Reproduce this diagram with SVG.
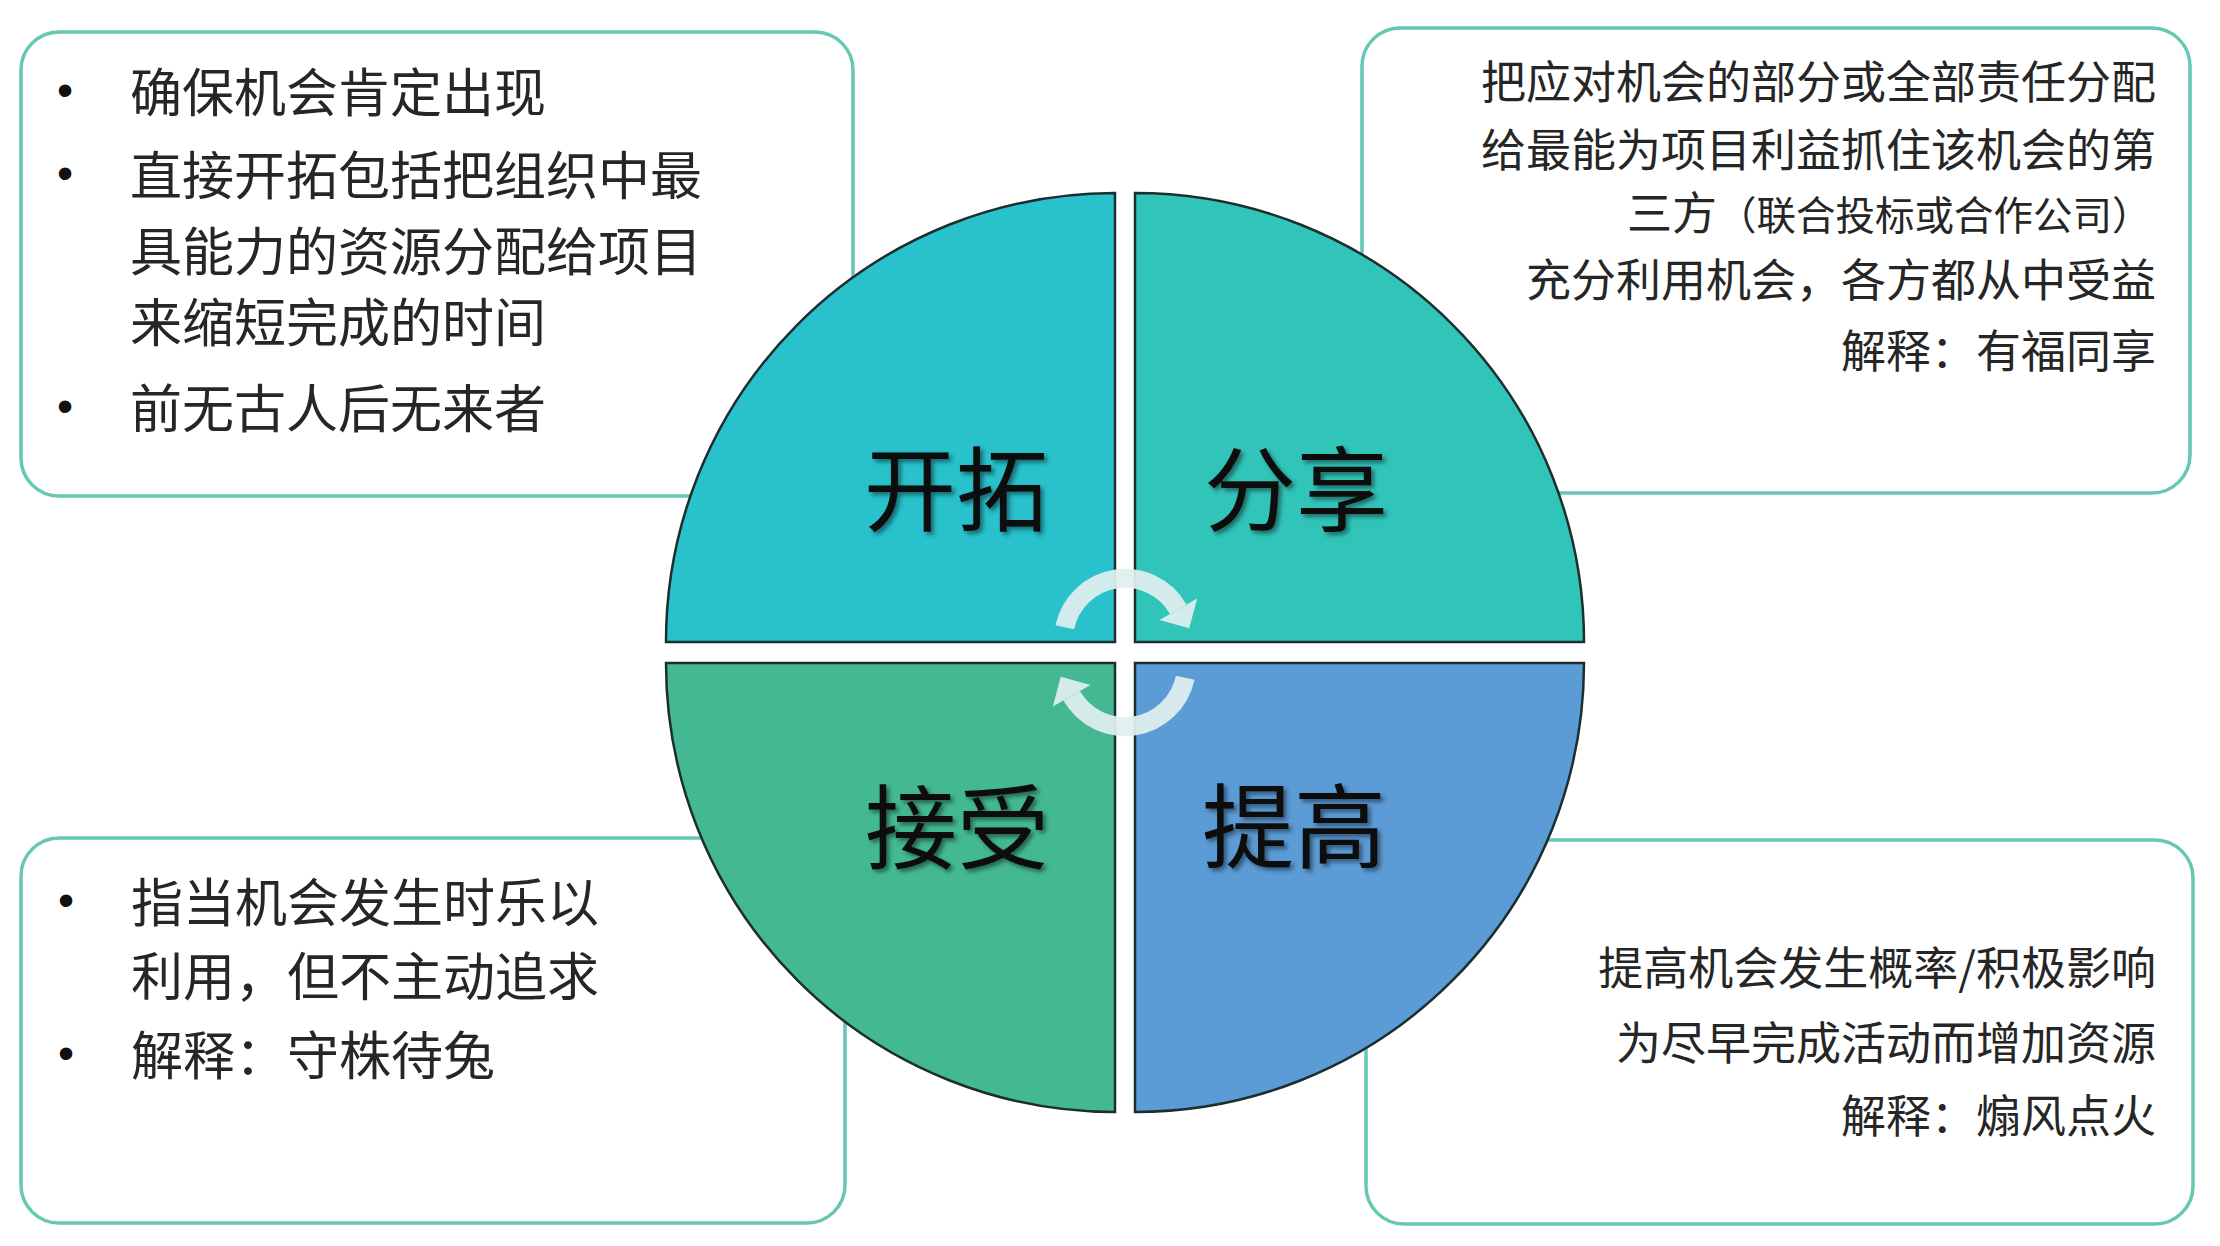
<svg xmlns="http://www.w3.org/2000/svg" width="2220" height="1246" viewBox="0 0 2220 1246">
  <defs>
    <style>
      .box { fill: #ffffff; stroke: #66c8b3; stroke-width: 3.5; }
      .quad { stroke: #1c2e2e; stroke-width: 2.5; }
      .body { font-family: "Noto Sans CJK SC", "Liberation Sans", sans-serif; fill: #262626; }
      .l52 { font-size: 52px; }
      .r45 { font-size: 45px; text-anchor: end; }
      .bul { font-family: "Liberation Sans", sans-serif; font-size: 46px; fill: #111; text-anchor: middle; }
      .big { font-family: "Noto Sans CJK SC", sans-serif; font-size: 92px; fill: #0d0d0d; text-anchor: middle; filter: url(#shadow); }
      .cyc { fill: #e0efef; fill-opacity: 0.93; }
    </style>
    <filter id="shadow" x="-10%" y="-10%" width="130%" height="140%">
      <feDropShadow dx="3" dy="3" stdDeviation="2" flood-color="#000000" flood-opacity="0.45"/>
    </filter>
    <g id="cycArrow">
      <path d="M1064.8,627.2 A61.5,61.5 0 0 1 1178.3,609.25" fill="none" stroke="#e0efef" stroke-opacity="0.93" stroke-width="19"/>
      <polygon class="cyc" points="1159.5,620.1 1197.1,598.4 1189.3,628.3"/>
    </g>
  </defs>
  <rect width="2220" height="1246" fill="#ffffff"/>

  <g id="box-exploit">
    <rect class="box" x="21" y="32" width="832" height="464" rx="38"/>
    <text class="bul" x="65" y="106">•</text>
    <text class="bul" x="65" y="189">•</text>
    <text class="bul" x="65" y="422">•</text>
    <text class="body l52" x="130" y="112">确保机会肯定出现</text>
    <text class="body l52" x="130" y="195">直接开拓包括把组织中最</text>
    <text class="body l52" x="130" y="271">具能力的资源分配给项目</text>
    <text class="body l52" x="130" y="342">来缩短完成的时间</text>
    <text class="body l52" x="130" y="428">前无古人后无来者</text>
  </g>

  <g id="box-share">
    <rect class="box" x="1362" y="28" width="828" height="465" rx="38"/>
    <text class="body r45" x="2156" y="99">把应对机会的部分或全部责任分配</text>
    <text class="body r45" x="2156" y="167">给最能为项目利益抓住该机会的第</text>
    <text class="body" x="1627" y="230" font-size="45">三方<tspan font-size="39.5">（联合投标或合作公司）</tspan></text>
    <text class="body r45" x="2156" y="297">充分利用机会，各方都从中受益</text>
    <text class="body r45" x="2156" y="368">解释：有福同享</text>
  </g>

  <g id="box-accept">
    <rect class="box" x="21" y="838" width="824" height="385" rx="38"/>
    <text class="bul" x="66" y="916">•</text>
    <text class="bul" x="66" y="1069">•</text>
    <text class="body l52" x="131" y="922">指当机会发生时乐以</text>
    <text class="body l52" x="131" y="996">利用，但不主动追求</text>
    <text class="body l52" x="131" y="1075">解释：守株待兔</text>
  </g>

  <g id="box-enhance">
    <rect class="box" x="1366" y="840" width="827" height="384" rx="38"/>
    <text class="body r45" x="2156" y="985">提高机会发生概率/积极影响</text>
    <text class="body r45" x="2156" y="1060">为尽早完成活动而增加资源</text>
    <text class="body r45" x="2156" y="1133">解释：煽风点火</text>
  </g>

  <g id="quad-exploit">
    <path class="quad" fill="#28c1cc" d="M1115,642 L666,642 A449,449 0 0 1 1115,193 Z"/>
    <text class="big" x="956" y="524">开拓</text>
  </g>
  <g id="quad-share">
    <path class="quad" fill="#31c4b9" d="M1135,642 L1135,193 A449,449 0 0 1 1584,642 Z"/>
    <text class="big" x="1296" y="524">分享</text>
  </g>
  <g id="quad-accept">
    <path class="quad" fill="#43b893" d="M1115,663 L1115,1112 A449,449 0 0 1 666,663 Z"/>
    <text class="big" x="957" y="862">接受</text>
  </g>
  <g id="quad-enhance">
    <path class="quad" fill="#5b9bd6" d="M1135,663 L1584,663 A449,449 0 0 1 1135,1112 Z"/>
    <text class="big" x="1294" y="861">提高</text>
  </g>

  <g id="connectors">
    <use href="#cycArrow"/>
    <use href="#cycArrow" transform="rotate(180 1125 652.5)"/>
  </g>
</svg>
